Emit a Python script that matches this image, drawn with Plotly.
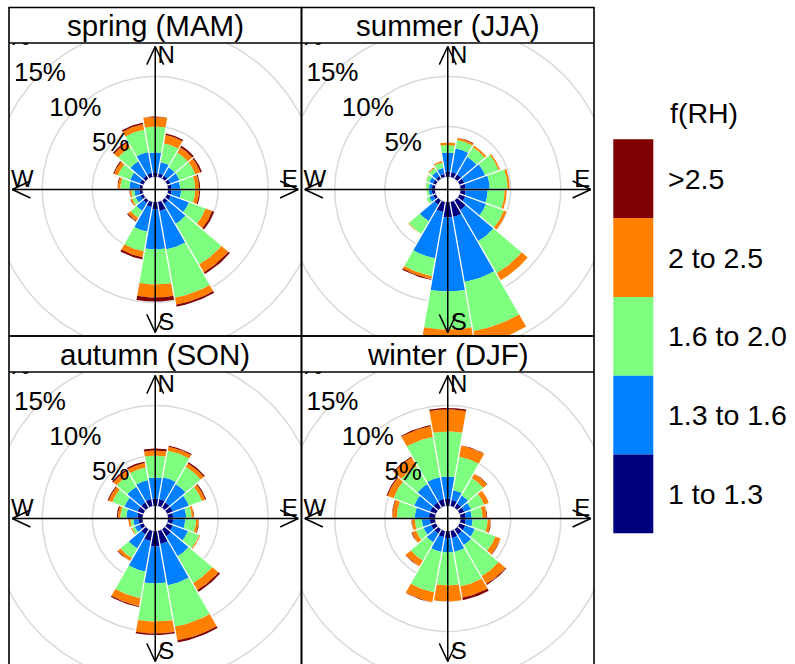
import numpy as np
import plotly.graph_objects as go

# ---------------- data ----------------
directions = list(range(0, 360, 20))          # wind direction bin centres (deg)
levels = ["1 to 1.3", "1.3 to 1.6", "1.6 to 2.0", "2 to 2.5", ">2.5"]
level_colors = ["#00007F", "#007FFF", "#7FFF7F", "#FF7F00", "#7F0000"]
seasons = ["spring (MAM)", "summer (JJA)", "autumn (SON)", "winter (DJF)"]
grid_pcts = [5, 10, 15, 20]

# frequency (%) of each f(RH) class per direction bin
spring_l1 = [.4, .35, .35, .35, .35, .35, .4, .4, .9, .7, .5, .3, .3, .3, .3, .35, .35, .4]
spring_l2 = [2.0, 1.15, .95, .95, .85, .95, 1.9, 2.3, 3.9, 4.0, 2.5, .9, .5, .5, 1.0, 1.05, 1.65, 2.1]
spring_l3 = [2.6, 1.9, 1.7, 1.7, 1.5, 1.4, 1.8, 4.7, 4.9, 3.5, 2.0, .8, .4, .3, .9, 1.3, 1.6, 2.3]
spring_l4 = [.95, .85, .6, .55, .4, .4, .7, .9, .7, 1.3, .6, .35, .15, .15, .25, .4, .55, .55]
spring_l5 = [.05, .15, .2, .15, .1, .1, .2, .2, .2, .4, .2, .1, .05, .05, .05, .1, .15, .15]

summer_l1 = [.5, .5, .5, .5, .5, .5, .6, 1.1, 1.5, 1.5, 1.0, .5, .3, .3, .3, .3, .3, .3]
summer_l2 = [1.9, 2.4, 2.0, 2.2, 2.4, 2.2, 2.2, 3.6, 6.6, 7.4, 4.7, 1.9, .4, .3, .3, .4, .5, .6]
summer_l3 = [.75, .85, 1.1, 1.45, 1.8, 1.7, 1.9, 3.7, 5.0, 3.8, 1.8, 1.45, .3, .2, .3, .35, .4, .55]
summer_l4 = [.25, .2, .2, .15, .2, .2, .3, .8, 1.4, 1.1, .3, .05, 0, 0, .05, .05, .1, .15]
summer_l5 = [0, .05, 0, 0, 0, 0, 0, 0, 0, 0, .1, 0, 0, 0, 0, 0, 0, 0]

autumn_l1 = [.7, .7, .6, .6, .5, .5, .6, .8, 1.3, 1.5, 1.0, .6, .4, .4, .5, .6, .6, .7]
autumn_l2 = [2.1, 2.2, 2.1, 1.7, 1.3, 1.2, 1.6, 2.3, 4.2, 3.7, 3.1, 1.6, .5, .5, 1.1, 1.4, 1.8, 1.9]
autumn_l3 = [2.2, 2.7, 2.0, 1.4, .55, 1.1, 1.2, 3.1, 4.2, 3.8, 2.7, 1.1, .3, .3, .6, 1.3, 1.4, 1.3]
autumn_l4 = [.5, .4, .4, .35, .2, .25, .1, .8, 1.4, 1.2, .8, .35, .1, .2, .25, .4, .45, .45]
autumn_l5 = [.2, .1, .15, .1, .05, .05, 0, .2, .2, .15, .1, .05, 0, 0, .1, .1, .15, .15]

winter_l1 = [.7, .6, .5, .5, .5, .5, .6, .6, .7, .7, .6, .5, .5, .5, .6, .6, .6, .7]
winter_l2 = [2.2, 1.0, .9, .7, .6, .7, 1.0, 1.2, 1.4, 1.4, 1.5, 1.0, .8, .8, 1.4, 1.7, 2.1, 2.2]
winter_l3 = [4.5, 3.4, 2.0, 1.4, 1.1, 1.5, 2.2, 3.6, 3.5, 3.3, 4.1, 2.1, .8, .7, 1.8, 2.2, 2.1, 4.1]
winter_l4 = [2.2, 1.1, .5, .5, .4, .3, .55, .9, 1.15, 1.6, 1.0, .65, .45, .3, .45, .65, 1.0, 1.1]
winter_l5 = [.15, .05, .05, 0, .05, .05, .05, .1, .25, 0, .05, .05, .05, .05, .05, .1, .1, .1]

season_data = [
    [spring_l1, spring_l2, spring_l3, spring_l4, spring_l5],
    [summer_l1, summer_l2, summer_l3, summer_l4, summer_l5],
    [autumn_l1, autumn_l2, autumn_l3, autumn_l4, autumn_l5],
    [winter_l1, winter_l2, winter_l3, winter_l4, winter_l5],
]

# ---------------- geometry / style ----------------
W, H = 795, 664
OFFSET = 1.3          # hole radius (in % units)
BIN = 20.0
FONT = "Liberation Sans, Arial, Helvetica, sans-serif"

def py(p):  # pixel row -> paper y
    return 1 - p / H

def px(p):
    return p / W

col_x = [(9, 301.5), (301.5, 594)]
row_y = [(7.5, 43, 336), (336, 372, 665)]  # strip top, strip bottom/plot top, plot bottom

fig = go.Figure()
layout_axes = {}
shapes = []
annotations = []

def arc(r, a0, a1, n=14):
    a = np.radians(np.linspace(a0, a1, n))
    return r * np.sin(a), r * np.cos(a)

for idx, (name, data) in enumerate(zip(seasons, season_data)):
    ci, ri = idx % 2, idx // 2
    xa = "x" if idx == 0 else f"x{idx+1}"
    ya = "y" if idx == 0 else f"y{idx+1}"
    x0p, x1p = col_x[ci]
    st, sb, pb = row_y[ri]
    xdom = [px(x0p), px(x1p)]
    ydom = [max(0.0, py(pb)), py(sb)]
    half_w = (x1p - x0p) / 2 / 10.0
    cy_px = (sb + pb) / 2
    ytop = (cy_px - sb) / 10.0
    ybot = -(min(pb, H) - cy_px) / 10.0
    layout_axes[("xaxis" if idx == 0 else f"xaxis{idx+1}")] = dict(
        domain=xdom, range=[-half_w, half_w], visible=False, fixedrange=True, anchor=ya)
    layout_axes[("yaxis" if idx == 0 else f"yaxis{idx+1}")] = dict(
        domain=ydom, range=[ybot, ytop], visible=False, fixedrange=True, anchor=xa)

    # grid circles
    gx, gy = [], []
    for p in [0] + grid_pcts + [25]:
        cx_, cy_ = arc(OFFSET + p, 0, 360, 181)
        gx += list(cx_) + [None]
        gy += list(cy_) + [None]
    fig.add_trace(go.Scatter(x=gx, y=gy, mode="lines", line=dict(color="#D9D9D9", width=1.5),
                             xaxis=xa, yaxis=ya, hoverinfo="skip", showlegend=False))

    # wedges
    cum = np.zeros(len(directions))
    for lev, vals in enumerate(data):
        vals = np.array(vals, dtype=float)
        wx, wy = [], []
        for k, d in enumerate(directions):
            if vals[k] <= 0:
                continue
            r0 = OFFSET + cum[k]
            r1 = OFFSET + cum[k] + vals[k]
            ox, oy = arc(r1, d - BIN / 2, d + BIN / 2)
            ix, iy = arc(r0, d + BIN / 2, d - BIN / 2)
            wx += list(ox) + list(ix) + [ox[0], None]
            wy += list(oy) + list(iy) + [oy[0], None]
        cum += vals
        fig.add_trace(go.Scatter(x=wx, y=wy, mode="lines", fill="toself",
                                 fillcolor=level_colors[lev], line=dict(width=0, color=level_colors[lev]),
                                 xaxis=xa, yaxis=ya, hoverinfo="skip", showlegend=False))

    # white separators between direction bins
    sx, sy = [], []
    n = len(directions)
    for k, d in enumerate(directions):
        b = np.radians(d + BIN / 2)
        rmax = OFFSET + max(cum[k], cum[(k + 1) % n]) + 0.1
        sx += [OFFSET * np.sin(b), rmax * np.sin(b), None]
        sy += [OFFSET * np.cos(b), rmax * np.cos(b), None]
    fig.add_trace(go.Scatter(x=sx, y=sy, mode="lines", line=dict(color="white", width=1.3),
                             xaxis=xa, yaxis=ya, hoverinfo="skip", showlegend=False))

    # axis arrows
    tip = 14.3
    hl, ha = 2.0, np.radians(25)
    axx, axy = [-tip, tip, None, 0, 0, None], [0, 0, None, -tip, tip, None]
    for ang in [0, 90, 180, 270]:
        a = np.radians(ang)
        tx, ty = tip * np.sin(a), tip * np.cos(a)
        for s in (-1, 1):
            b = a + np.pi + s * ha
            axx += [tx + hl * np.sin(b), tx, None]
            axy += [ty + hl * np.cos(b), ty, None]
    fig.add_trace(go.Scatter(x=axx, y=axy, mode="lines", line=dict(color="black", width=1.5),
                             xaxis=xa, yaxis=ya, hoverinfo="skip", showlegend=False))

    # compass labels
    fig.add_trace(go.Scatter(x=[1.1, 13.45, 1.1, -13.3], y=[13.3, 0.9, -13.4, 0.9],
                             text=["N", "E", "S", "W"], mode="text",
                             textfont=dict(family=FONT, size=24, color="black"),
                             xaxis=xa, yaxis=ya, hoverinfo="skip", showlegend=False))

    # percentage labels along 315 deg
    a = np.radians(315)
    lx = [(OFFSET + p) * np.sin(a) for p in grid_pcts]
    ly = [(OFFSET + p) * np.cos(a) for p in grid_pcts]
    fig.add_trace(go.Scatter(x=lx, y=ly, text=[f"{p}%" for p in grid_pcts], mode="text",
                             textfont=dict(family=FONT, size=26, color="black"),
                             xaxis=xa, yaxis=ya, hoverinfo="skip", showlegend=False))

    # panel border and strip
    shapes.append(dict(type="rect", xref="paper", yref="paper",
                       x0=px(x0p), x1=px(x1p), y0=py(pb), y1=py(st),
                       line=dict(color="black", width=1.6), fillcolor="rgba(0,0,0,0)", layer="above"))
    shapes.append(dict(type="line", xref="paper", yref="paper",
                       x0=px(x0p), x1=px(x1p), y0=py(sb), y1=py(sb),
                       line=dict(color="black", width=1.6), layer="above"))
    annotations.append(dict(x=px((x0p + x1p) / 2), y=py((st + sb) / 2 + 0.5), xref="paper", yref="paper",
                            text=name, showarrow=False, xanchor="center", yanchor="middle",
                            font=dict(family=FONT, size=29.5, color="black")))

# colour key
key_x0, key_x1 = 613.3, 653.3
key_top, key_h = 139.3, 78.8
for i, (lab, col) in enumerate(zip(levels[::-1], level_colors[::-1])):
    t = key_top + i * key_h
    shapes.append(dict(type="rect", xref="paper", yref="paper",
                       x0=px(key_x0), x1=px(key_x1), y0=py(t + key_h), y1=py(t),
                       line=dict(width=0), fillcolor=col, layer="above"))
    annotations.append(dict(x=px(666), y=py(t + key_h / 2), xref="paper", yref="paper",
                            text=lab, showarrow=False, xanchor="left", yanchor="middle",
                            font=dict(family=FONT, size=28.5, color="black")))
annotations.append(dict(x=px(704), y=py(113), xref="paper", yref="paper",
                        text="f(RH)", showarrow=False, xanchor="center", yanchor="middle",
                        font=dict(family=FONT, size=28.5, color="black")))

fig.update_layout(width=W, height=H, margin=dict(l=0, r=0, t=0, b=0),
                  paper_bgcolor="white", plot_bgcolor="white", showlegend=False,
                  shapes=shapes, annotations=annotations, **layout_axes)
fig.write_html("out.html")
